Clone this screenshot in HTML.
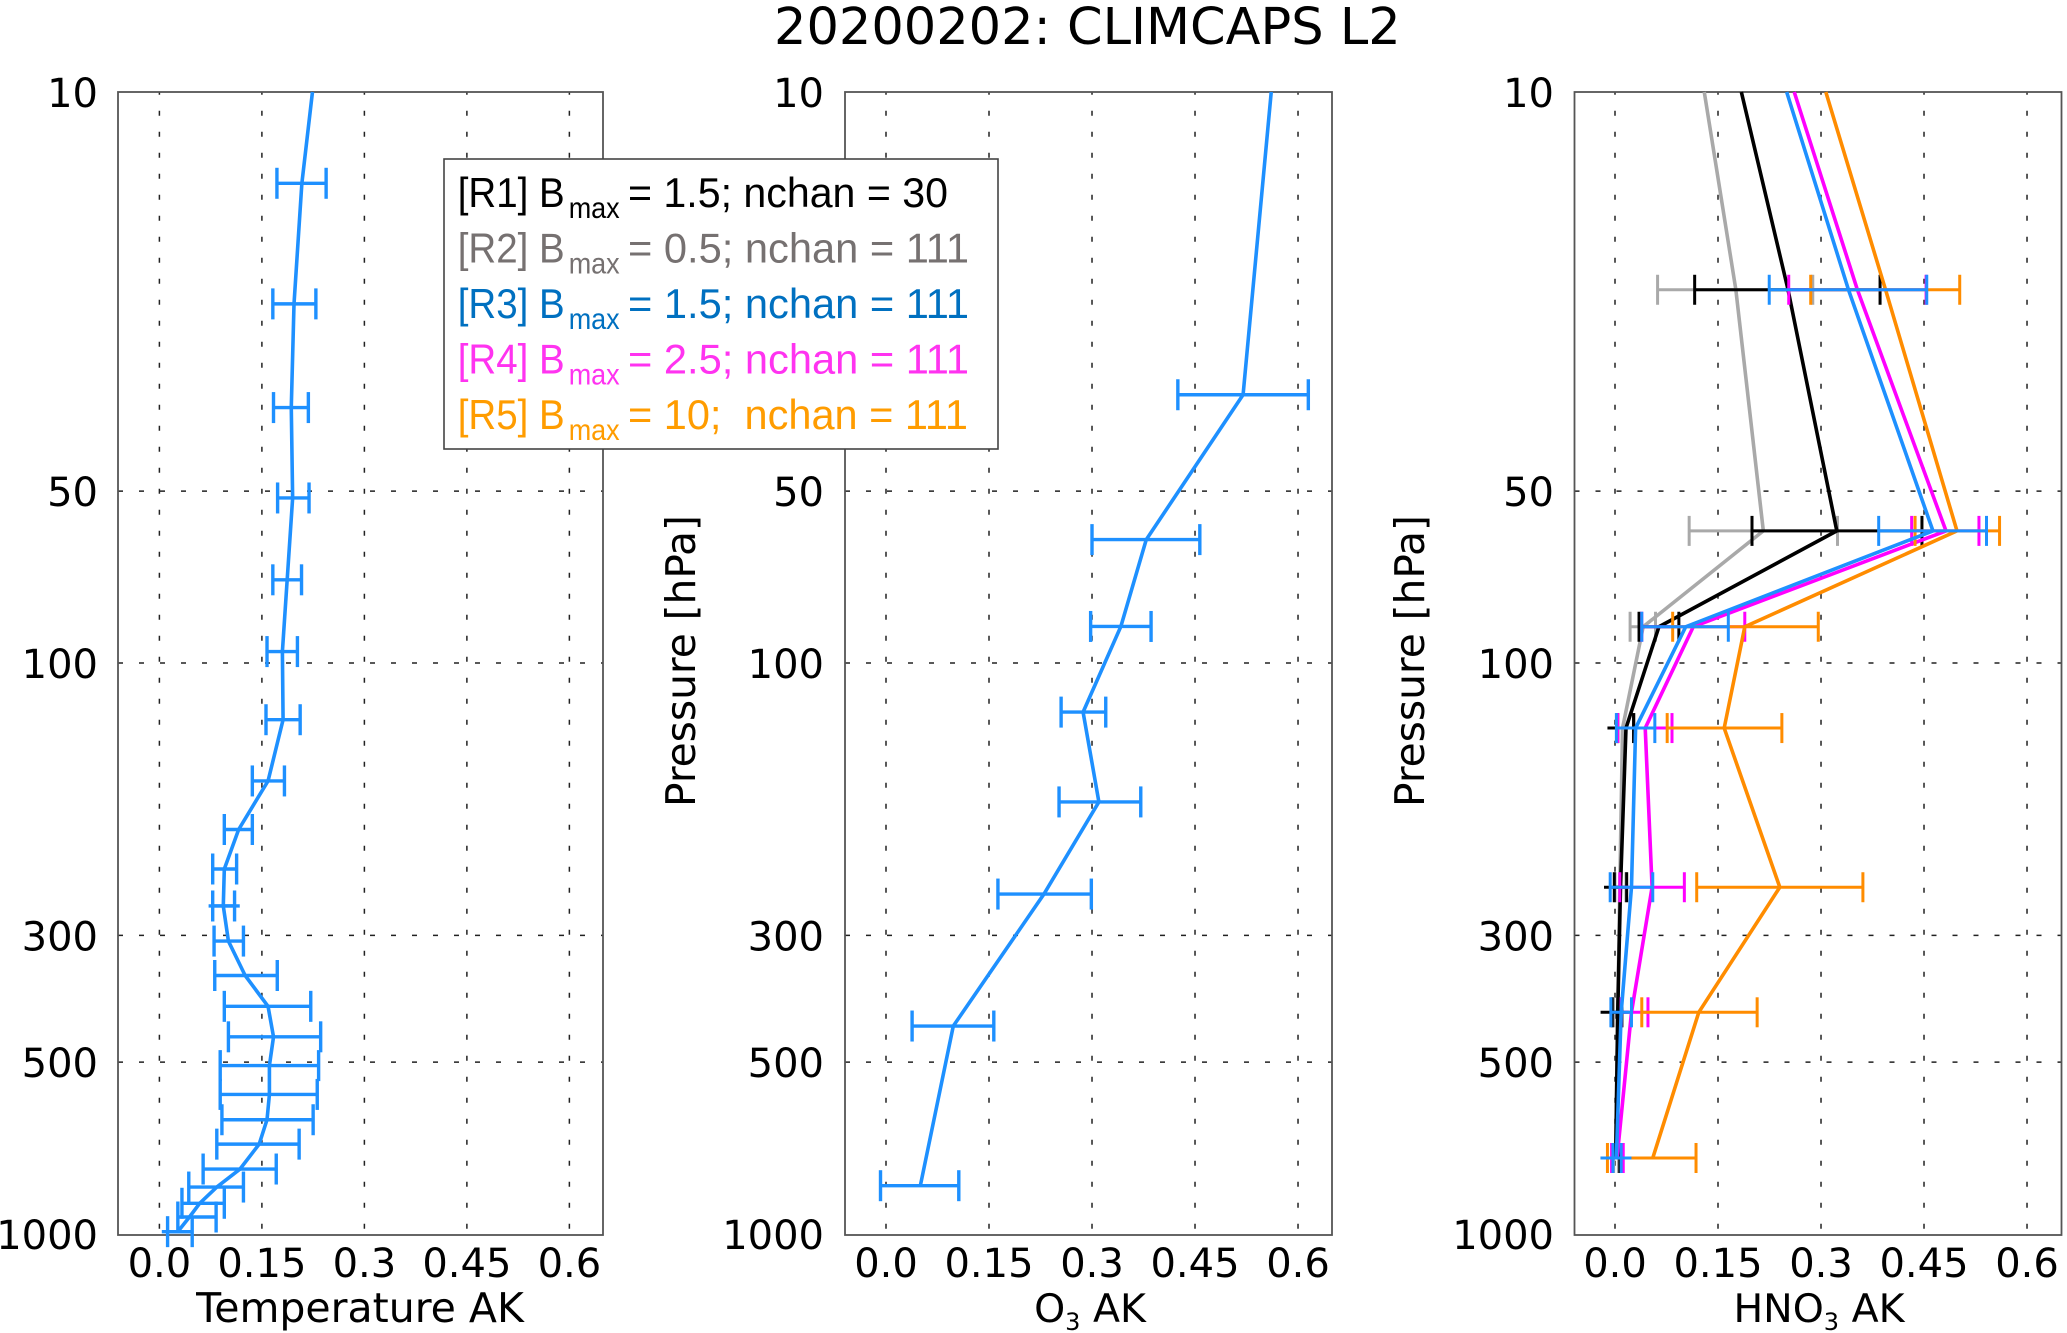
<!DOCTYPE html>
<html lang="en">
<head>
<meta charset="utf-8">
<title>20200202: CLIMCAPS L2</title>
<style>
html,body{margin:0;padding:0;background:#fff;}
svg{display:block;}
text{font-family:"DejaVu Sans","Liberation Sans",sans-serif;fill:#000;}
.legend-text{font-family:"Liberation Sans",sans-serif;}
</style>
</head>
<body>
<svg id="chart" xmlns="http://www.w3.org/2000/svg" width="2067" height="1333" viewBox="0 0 2067 1333">
  <rect x="0" y="0" width="2067" height="1333" fill="#ffffff"/>
  <text x="774" y="44" font-size="51">20200202: CLIMCAPS L2</text>
  <g id="panels"></g>
  <text x="360" y="1322" font-size="41" text-anchor="middle">Temperature AK</text>
  <text x="1090" y="1322" font-size="39.5" text-anchor="middle">O<tspan font-size="24" dy="8">3</tspan><tspan dy="-8"> AK</tspan></text>
  <text x="1819" y="1322" font-size="39.5" text-anchor="middle">HNO<tspan font-size="24" dy="8">3</tspan><tspan dy="-8"> AK</tspan></text>
  <text transform="translate(695,807) rotate(-90)" font-size="40.7">Pressure [hPa]</text>
  <text transform="translate(1424,807) rotate(-90)" font-size="40.7">Pressure [hPa]</text>
  <g>
    <rect x="444" y="159" width="554" height="290" fill="#ffffff" stroke="#444444" stroke-width="1.6"/>
    <g>
      <text class="legend-text" style="fill:#000000" x="457.7" y="207" font-size="42" textLength="107" lengthAdjust="spacingAndGlyphs">[R1] B</text>
      <text class="legend-text" style="fill:#000000" x="568.7" y="218" font-size="30" textLength="51" lengthAdjust="spacingAndGlyphs">max</text>
      <text class="legend-text" style="fill:#000000" x="628" y="207" font-size="42" textLength="320" lengthAdjust="spacingAndGlyphs">= 1.5; nchan = 30</text>
    </g>
    <g>
      <text class="legend-text" style="fill:#767171" x="457.7" y="262.5" font-size="42" textLength="107" lengthAdjust="spacingAndGlyphs">[R2] B</text>
      <text class="legend-text" style="fill:#767171" x="568.7" y="273.5" font-size="30" textLength="51" lengthAdjust="spacingAndGlyphs">max</text>
      <text class="legend-text" style="fill:#767171" x="628" y="262.5" font-size="42" textLength="341" lengthAdjust="spacingAndGlyphs">= 0.5; nchan = 111</text>
    </g>
    <g>
      <text class="legend-text" style="fill:#0070c0" x="457.7" y="318" font-size="42" textLength="107" lengthAdjust="spacingAndGlyphs">[R3] B</text>
      <text class="legend-text" style="fill:#0070c0" x="568.7" y="329" font-size="30" textLength="51" lengthAdjust="spacingAndGlyphs">max</text>
      <text class="legend-text" style="fill:#0070c0" x="628" y="318" font-size="42" textLength="341" lengthAdjust="spacingAndGlyphs">= 1.5; nchan = 111</text>
    </g>
    <g>
      <text class="legend-text" style="fill:#ff33f0" x="457.7" y="373.5" font-size="42" textLength="107" lengthAdjust="spacingAndGlyphs">[R4] B</text>
      <text class="legend-text" style="fill:#ff33f0" x="568.7" y="384.5" font-size="30" textLength="51" lengthAdjust="spacingAndGlyphs">max</text>
      <text class="legend-text" style="fill:#ff33f0" x="628" y="373.5" font-size="42" textLength="341" lengthAdjust="spacingAndGlyphs">= 2.5; nchan = 111</text>
    </g>
    <g>
      <text class="legend-text" style="fill:#ff9c00" x="457.7" y="429" font-size="42" textLength="107" lengthAdjust="spacingAndGlyphs">[R5] B</text>
      <text class="legend-text" style="fill:#ff9c00" x="568.7" y="440" font-size="30" textLength="51" lengthAdjust="spacingAndGlyphs">max</text>
      <text class="legend-text" style="fill:#ff9c00" x="628" y="429" font-size="42" textLength="340" lengthAdjust="spacingAndGlyphs" xml:space="preserve">= 10;  nchan = 111</text>
    </g>
  </g>
</svg>
<script>
// ---- axis ticks ----
var xTickValues = [0, 0.15, 0.3, 0.45, 0.6];
var xTickLabels = ['0.0', '0.15', '0.3', '0.45', '0.6'];
var yTickValues = [10, 50, 100, 300, 500, 1000];
var yTickLabels = ['10', '50', '100', '300', '500', '1000'];

// ---- Temperature AK (R3 only) ----
var tempPressure = [10, 14.45, 23.5, 35.7, 51.4, 71.5, 95.5, 125.7, 160.9, 195.7, 229.5, 266.4, 306.9, 352.6, 399.3, 451.5, 507.1, 569.6, 630.8, 696, 769.5, 827.5, 883.5, 933.7, 990.6];
var tempMean = [0.224, 0.2085, 0.197, 0.193, 0.195, 0.187, 0.180, 0.181, 0.159, 0.116, 0.095, 0.0935, 0.101, 0.1255, 0.159, 0.167, 0.161, 0.161, 0.1575, 0.146, 0.118, 0.084, 0.059, 0.044, 0.027];
var tempLow = [null, 0.172, 0.166, 0.167, 0.173, 0.166, 0.1575, 0.156, 0.136, 0.095, 0.078, 0.078, 0.080, 0.081, 0.095, 0.101, 0.089, 0.089, 0.0915, 0.084, 0.064, 0.043, 0.033, 0.027, 0.012];
var tempHigh = [null, 0.244, 0.229, 0.218, 0.219, 0.208, 0.202, 0.206, 0.183, 0.136, 0.113, 0.110, 0.123, 0.1725, 0.2215, 0.236, 0.233, 0.231, 0.225, 0.2045, 0.171, 0.123, 0.095, 0.083, 0.048];
var tempTailPressure = [266.4, 990.6];
var tempTailLow = [0.072, 0.0035];
var tempTailHigh = [0.1176, 0.049];

// ---- O3 AK (R3 only) ----
var o3Pressure = [10, 33.9, 60.8, 86.3, 121.9, 175.1, 253.9, 432.3, 823];
var o3Mean = [0.561, 0.520, 0.379, 0.342, 0.287, 0.310, 0.230, 0.098, 0.050];
var o3Low = [null, 0.425, 0.300, 0.298, 0.255, 0.252, 0.163, 0.038, -0.008];
var o3High = [null, 0.615, 0.457, 0.386, 0.320, 0.371, 0.299, 0.157, 0.106];

// ---- HNO3 AK (R1..R5) ----
var hno3Pressure = [10, 22.2, 58.7, 86.4, 130, 247, 409, 736];
var r1Mean = [0.184, 0.252, 0.323, 0.064, 0.016, 0.008, 0.004, 0.001];
var r1Low = [null, 0.116, 0.1995, 0.035, 0.004, -0.001, -0.004, -0.004];
var r1High = [null, 0.386, 0.447, 0.093, 0.027, 0.017, 0.010, 0.007];
var r2Mean = [0.130, 0.176, 0.216, 0.041, 0.011, 0.007, 0.004, 0.001];
var r2Low = [null, 0.062, 0.108, 0.022, 0.003, 0.000, -0.002, -0.002];
var r2High = [null, 0.288, 0.324, 0.059, 0.028, 0.016, 0.010, 0.005];
var r3Mean = [0.250, 0.340, 0.463, 0.103, 0.030, 0.024, 0.009, 0.002];
var r3Low = [null, 0.2246, 0.384, 0.039, 0.002, -0.007, -0.006, -0.003];
var r3High = [null, 0.454, 0.541, 0.165, 0.058, 0.055, 0.024, 0.009];
var r4Mean = [0.261, 0.353, 0.482, 0.114, 0.044, 0.054, 0.024, 0.003];
var r4Low = [null, 0.253, 0.432, 0.039, 0.004, 0.007, 0.009, -0.005];
var r4High = [null, 0.453, 0.530, 0.189, 0.083, 0.101, 0.048, 0.012];
var r5Mean = [0.307, 0.394, 0.498, 0.189, 0.159, 0.240, 0.122, 0.055];
var r5Low = [null, 0.285, 0.437, 0.084, 0.076, 0.119, 0.039, -0.011];
var r5High = [null, 0.502, 0.560, 0.296, 0.243, 0.361, 0.207, 0.118];
var hno3TailPressure = [130, 247, 409, 736];
var hno3TailLow = [-0.011, -0.016, -0.021, -0.021];
var hno3TailHigh = [0.02, 0.02, 0.02, 0.024];

var seriesBlue = '#1e90ff';
var SVGNS = 'http://www.w3.org/2000/svg';
var panelsRoot = document.getElementById('panels');

function yScale(p) {
  return 92 + (Math.log10(p) - 1) * 571;
}

function makeXScale(zeroPx, pxPerUnit) {
  return function (v) { return zeroPx + v * pxPerUnit; };
}

function svgEl(tag, parent, attrs) {
  var el = document.createElementNS(SVGNS, tag);
  for (var k in attrs) { el.setAttribute(k, attrs[k]); }
  parent.appendChild(el);
  return el;
}

function drawAxes(group, left, right, xScale, labelRight) {
  xTickValues.forEach(function (v, i) {
    var line = svgEl('line', group, {x1: xScale(v), x2: xScale(v), y1: 92, y2: 1235, stroke: '#222', 'stroke-width': 1.5, 'stroke-dasharray': '5 16', 'stroke-dashoffset': 2.2});
    
    
    var label = svgEl('text', group, {x: xScale(v), y: 1277, 'font-size': 40, 'text-anchor': 'middle'});
    label.textContent = xTickLabels[i];
    
    
  });
  yTickValues.forEach(function (p, i) {
    if (p !== 10 && p !== 1000) {
      var line = svgEl('line', group, {x1: left, x2: right, y1: yScale(p), y2: yScale(p), stroke: '#222', 'stroke-width': 1.5, 'stroke-dasharray': '5 16'});
      
      
    }
    var label = svgEl('text', group, {x: labelRight, y: yScale(p) + 15, 'font-size': 40, 'text-anchor': 'end'});
    label.textContent = yTickLabels[i];
    
    
  });
  var frame = svgEl('rect', group, {x: left, y: yScale(10), width: right - left, height: yScale(1000) - yScale(10) + 1, fill: 'none', stroke: '#555', 'stroke-width': 1.8});
  
  
}

function drawErrorBars(group, pressures, lows, highs, xScale, color, width, capHalf) {
  pressures.forEach(function (p, i) {
    if (lows[i] === null) { return; }
    var y = yScale(p), x1 = xScale(lows[i]), x2 = xScale(highs[i]);
    var bar = svgEl('line', group, {x1: x1, x2: x2, y1: y, y2: y, stroke: color, 'stroke-width': width});
    
    
    var capLow = svgEl('line', group, {x1: x1, x2: x1, y1: y - capHalf, y2: y + capHalf, stroke: color, 'stroke-width': width});
    
    
    var capHigh = svgEl('line', group, {x1: x2, x2: x2, y1: y - capHalf, y2: y + capHalf, stroke: color, 'stroke-width': width});
    
    
  });
}

function drawTails(group, pressures, lows, highs, xScale, color, width) {
  pressures.forEach(function (p, i) {
    var y = yScale(p);
    var tail = svgEl('line', group, {x1: xScale(lows[i]), x2: xScale(highs[i]), y1: y, y2: y, stroke: color, 'stroke-width': width});
    
    
  });
}

function drawLine(group, pressures, means, xScale, color, width) {
  var pts = pressures.map(function (p, i) { return xScale(means[i]) + ',' + yScale(p); }).join(' ');
  var line = svgEl('polyline', group, {points: pts, fill: 'none', stroke: color, 'stroke-width': width, 'stroke-linejoin': 'round'});
  
  
}

// ---- Panel 1: Temperature ----
var tempX = makeXScale(159.4, 683.3);
var tempGroup = svgEl('g', panelsRoot, {});


drawAxes(tempGroup, 118, 603, tempX, 98);
drawLine(tempGroup, tempPressure, tempMean, tempX, seriesBlue, 3.6);
drawErrorBars(tempGroup, tempPressure, tempLow, tempHigh, tempX, seriesBlue, 3.4, 15.5);
drawTails(tempGroup, tempTailPressure, tempTailLow, tempTailHigh, tempX, seriesBlue, 3.4);

// ---- Panel 2: O3 ----
var o3X = makeXScale(886, 686.7);
var o3Group = svgEl('g', panelsRoot, {});


drawAxes(o3Group, 845, 1332, o3X, 824);
drawLine(o3Group, o3Pressure, o3Mean, o3X, seriesBlue, 3.6);
drawErrorBars(o3Group, o3Pressure, o3Low, o3High, o3X, seriesBlue, 3.4, 15.5);

// ---- Panel 3: HNO3 ----
var hno3X = makeXScale(1615, 686.7);
var hno3Group = svgEl('g', panelsRoot, {});


drawAxes(hno3Group, 1574.5, 2061.5, hno3X, 1554);

var r2Group = svgEl('g', hno3Group, {});


drawLine(r2Group, hno3Pressure, r2Mean, hno3X, '#a9a9a9', 3.6);
drawErrorBars(r2Group, hno3Pressure, r2Low, r2High, hno3X, '#a9a9a9', 3, 15);

var r1Group = svgEl('g', hno3Group, {});


drawLine(r1Group, hno3Pressure, r1Mean, hno3X, '#000000', 3.6);
drawErrorBars(r1Group, hno3Pressure, r1Low, r1High, hno3X, '#000000', 3, 15);
drawTails(r1Group, hno3TailPressure, hno3TailLow, hno3TailHigh, hno3X, '#000000', 3);

var r4Group = svgEl('g', hno3Group, {});


drawLine(r4Group, hno3Pressure, r4Mean, hno3X, '#ff00ff', 3.6);
drawErrorBars(r4Group, hno3Pressure, r4Low, r4High, hno3X, '#ff00ff', 3, 15);

var r5Group = svgEl('g', hno3Group, {});


drawLine(r5Group, hno3Pressure, r5Mean, hno3X, '#ff8c00', 3.6);
drawErrorBars(r5Group, hno3Pressure, r5Low, r5High, hno3X, '#ff8c00', 3, 15);

var r3Group = svgEl('g', hno3Group, {});


drawLine(r3Group, hno3Pressure, r3Mean, hno3X, seriesBlue, 3.6);
drawErrorBars(r3Group, hno3Pressure, r3Low, r3High, hno3X, seriesBlue, 3, 15);
drawTails(r3Group, hno3TailPressure.slice(3), hno3TailLow.slice(3), hno3TailHigh.slice(3), hno3X, seriesBlue, 3);
</script>
</body>
</html>
